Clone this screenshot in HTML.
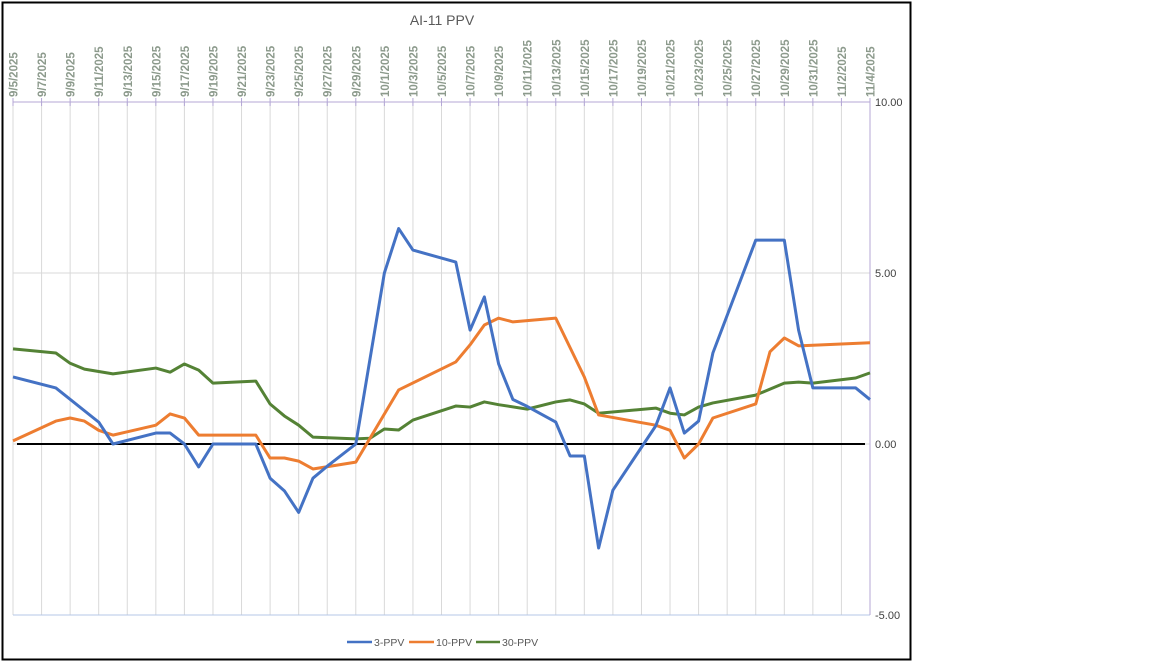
<!DOCTYPE html>
<html><head><meta charset="utf-8"><style>
body{margin:0;background:#fff;width:1152px;height:662px;overflow:hidden;font-family:"Liberation Sans",sans-serif}
</style></head><body>
<svg id="chart" width="1152" height="662" xmlns="http://www.w3.org/2000/svg">
<rect x="2.5" y="2.5" width="908" height="657" fill="#fff" stroke="#000" stroke-width="2"/>
<text x="442" y="25" text-anchor="middle" font-size="14" fill="#595959">AI-11 PPV</text>
<g id="grid"></g><g id="axes"></g><g id="series"></g>
<g font-size="10.5" fill="#595959">
<line x1="347" y1="642" x2="372" y2="642" stroke="#4472C4" stroke-width="2.5"/>
<text x="374" y="646">3-PPV</text>
<line x1="409" y1="642" x2="434" y2="642" stroke="#ED7D31" stroke-width="2.5"/>
<text x="436" y="646">10-PPV</text>
<line x1="476" y1="642" x2="500" y2="642" stroke="#548235" stroke-width="2.5"/>
<text x="502" y="646">30-PPV</text>
</g>
</svg>
<script>
const yTicks=[10,5,0,-5];
const blueDays=[0,3,6,7,10,11,12,13,14,17,18,19,20,21,22,24,26,27,28,31,32,33,34,35,36,38,39,40,41,42,45,46,47,48,49,52,54,55,56,59,60];
const blueVals=[1.96,1.64,0.64,0,0.32,0.32,0,-0.67,0,0,-1.0,-1.37,-2.0,-1.0,-0.65,0,5.0,6.3,5.67,5.32,3.33,4.3,2.34,1.3,1.1,0.64,-0.35,-0.35,-3.04,-1.35,0.53,1.64,0.32,0.67,2.66,5.96,5.96,3.33,1.64,1.64,1.3];
const orangeDays=[0,3,4,5,6,7,10,11,12,13,17,18,19,20,21,24,27,31,32,33,34,35,38,40,41,45,46,47,48,49,52,53,54,55,60];
const orangeVals=[0.09,0.67,0.76,0.67,0.4,0.26,0.55,0.88,0.76,0.26,0.26,-0.41,-0.41,-0.5,-0.73,-0.53,1.58,2.4,2.9,3.48,3.68,3.57,3.68,1.96,0.85,0.55,0.4,-0.41,0,0.76,1.17,2.7,3.1,2.87,2.96];
const greenDays=[0,3,4,5,7,10,11,12,13,14,17,18,19,20,21,24,25,26,27,28,31,32,33,34,36,38,39,40,41,45,46,47,48,49,52,54,55,56,59,60];
const greenVals=[2.78,2.66,2.36,2.19,2.05,2.22,2.1,2.34,2.16,1.78,1.84,1.17,0.82,0.55,0.2,0.15,0.17,0.44,0.41,0.7,1.11,1.08,1.23,1.15,1.02,1.23,1.29,1.17,0.9,1.05,0.9,0.85,1.08,1.2,1.43,1.78,1.81,1.78,1.93,2.08];
const startDate=[2025,8,5], totalDays=60;
const X0=13,X1=870,Y0=444,YPU=34.2;
const xs=d=>X0+(X1-X0)*d/totalDays, ys=v=>Y0-v*YPU;
const NS="http://www.w3.org/2000/svg";
function mk(tag,attrs,parent){const e=document.createElementNS(NS,tag);for(const k in attrs)e.setAttribute(k,attrs[k]);parent.appendChild(e);return e;}
const grid=document.getElementById('grid'),axes=document.getElementById('axes'),ser=document.getElementById('series');
for(let d=0;d<=totalDays;d+=2){
  const x=xs(d);
  const l=mk('line',{x1:x,y1:ys(10),x2:x,y2:ys(-5),stroke:'#d9d9d9','stroke-width':1},grid);
  
  
  const t=mk('line',{x1:x,y1:ys(10)-4,x2:x,y2:ys(10)+4,stroke:'#b4a7d6','stroke-width':1},axes);
  
  
  const dt=new Date(startDate[0],startDate[1],startDate[2]+d);
  const lab=(dt.getMonth()+1)+'/'+dt.getDate()+'/'+dt.getFullYear();
  const tx=mk('text',{x:0,y:0,transform:`translate(${x+4.5},97) rotate(-90)`,'font-size':11.5,'font-weight':'bold',fill:'#8c9a8c'},axes);
  tx.textContent=lab;
  
  
}
yTicks.forEach(v=>{
  const y=ys(v);
  const g=mk('line',{x1:X0,y1:y,x2:X1,y2:y,stroke:v===10?'#b4a7d6':(v===-5?'#b4c7e7':'#d9d9d9'),'stroke-width':1},grid);
  
  
  const t=mk('text',{x:X1+5,y:y+4,'font-size':11,fill:'#404040'},axes);
  t.textContent=v.toFixed(2);
  
  
});
const ra=mk('line',{x1:X1,y1:ys(10),x2:X1,y2:ys(-5),stroke:'#b4a7d6','stroke-width':1},axes);


const z=mk('line',{x1:17,y1:ys(0),x2:865,y2:ys(0),stroke:'#000','stroke-width':2},axes);


function draw(days,vals,color,name){
  const p=mk('polyline',{points:days.map((d,i)=>xs(d)+','+ys(vals[i])).join(' '),fill:'none',stroke:color,'stroke-width':3,'stroke-linejoin':'round'},ser);
  
  
}
draw(greenDays,greenVals,'#548235','series-30-ppv');
draw(orangeDays,orangeVals,'#ED7D31','series-10-ppv');
draw(blueDays,blueVals,'#4472C4','series-3-ppv');
</script>
</body></html>
